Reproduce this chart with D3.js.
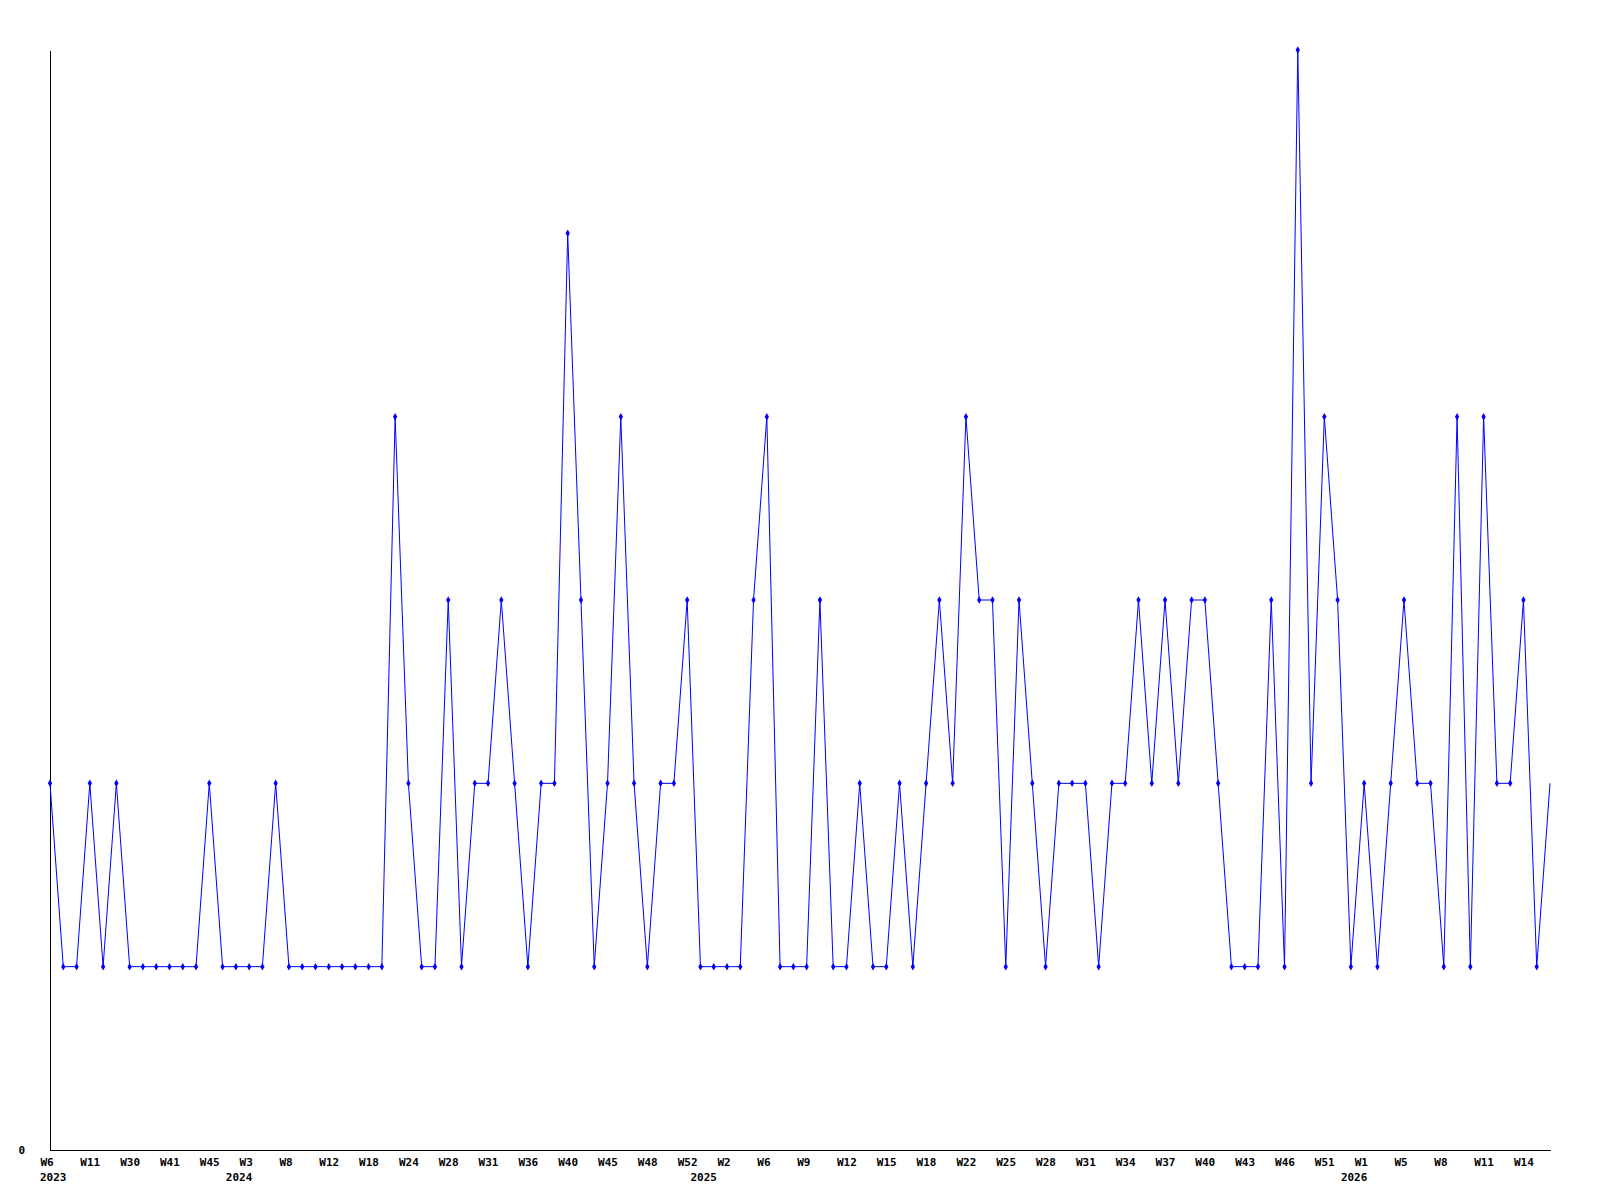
<!DOCTYPE html>
<html>
<head>
<meta charset="utf-8">
<script src="https://cdn.jsdelivr.net/npm/d3@7"></script>
<style>
  html, body { margin: 0; padding: 0; background: #ffffff; }
  svg { display: block; }
  text { font-family: "DejaVu Sans Mono", monospace; font-weight: bold; font-size: 11px; fill: #000; }
</style>
</head>
<body>
<svg id="chart" width="1600" height="1200"></svg>
<script>
// weekly counts, one value per data point (114 points)
const values = [
  2,1,1,2,1,2,1,1,1,1,
  1,1,2,1,1,1,1,2,1,1,
  1,1,1,1,1,1,4,2,1,1,
  3,1,2,2,3,2,1,2,2,5,
  3,1,2,4,2,1,2,2,3,1,
  1,1,1,3,4,1,1,1,3,1,
  1,2,1,1,2,1,2,3,2,4,
  3,3,1,3,2,1,2,2,2,1,
  2,2,3,2,3,2,3,3,2,1,
  1,1,3,1,6,2,4,3,1,2,
  1,2,3,2,2,1,4,1,4,2,
  2,3,1,2
];
// x tick labels, every third point
const weekTicks = ["W6","W11","W30","W41","W45","W3","W8","W12","W18","W24","W28","W31","W36",
  "W40","W45","W48","W52","W2","W6","W9","W12","W15","W18","W22","W25","W28","W31","W34",
  "W37","W40","W43","W46","W51","W1","W5","W8","W11","W14"];
const yearLabels = ["2023","2024","2025","2026"];
const yearIndex = [0,14,49,98];
const yTicks = [0];

const svg = d3.select("#chart");
const x = d3.scaleLinear().domain([0, values.length - 1]).range([50, 1550]);
const y = d3.scaleLinear().domain([0, 6]).range([1150, 50]);

// x axis
const xAxis = d3.axisBottom(x)
  .tickValues(d3.range(0, values.length, 3))
  .tickFormat((d, i) => weekTicks[i])
  .tickSize(0).tickSizeOuter(0);
const gx = svg.append("g").attr("transform", `translate(0,${y(0)})`).call(xAxis);
gx.select(".domain").attr("stroke", "#000").attr("shape-rendering", "crispEdges");
gx.selectAll("text").attr("text-anchor", "start").attr("dx", -10).attr("y", 16).attr("dy", 0)
  .attr("font-family", null).attr("font-size", null);

// year labels
svg.append("g").selectAll("text").data(yearLabels).join("text")
  .attr("x", (d, i) => x(yearIndex[i]) - 10)
  .attr("y", y(0) + 31)
  .text(d => d);

// y axis
const yAxis = d3.axisLeft(y).tickValues(yTicks).tickFormat(d3.format("d")).tickSize(0).tickSizeOuter(0);
const gy = svg.append("g").attr("transform", `translate(${x(0)},0)`).call(yAxis);
gy.select(".domain").attr("stroke", "#000").attr("shape-rendering", "crispEdges");
gy.selectAll("text").attr("text-anchor", "end").attr("x", -25).attr("dy", 3)
  .attr("font-family", null).attr("font-size", null);

// line
const line = d3.line().x((d, i) => x(i)).y(d => y(d));
svg.append("path").datum(values)
  .attr("fill", "none").attr("stroke", "#0000ff").attr("stroke-width", 1)
  .attr("d", line);

// markers (last point has none)
const sym = d3.symbol().type(d3.symbolDiamond).size(16);
svg.append("g").selectAll("path").data(values.slice(0, values.length - 1)).join("path")
  .attr("transform", (d, i) => `translate(${x(i)},${y(d)})`)
  .attr("d", sym)
  .attr("fill", "#0000ff");
</script>
</body>
</html>
